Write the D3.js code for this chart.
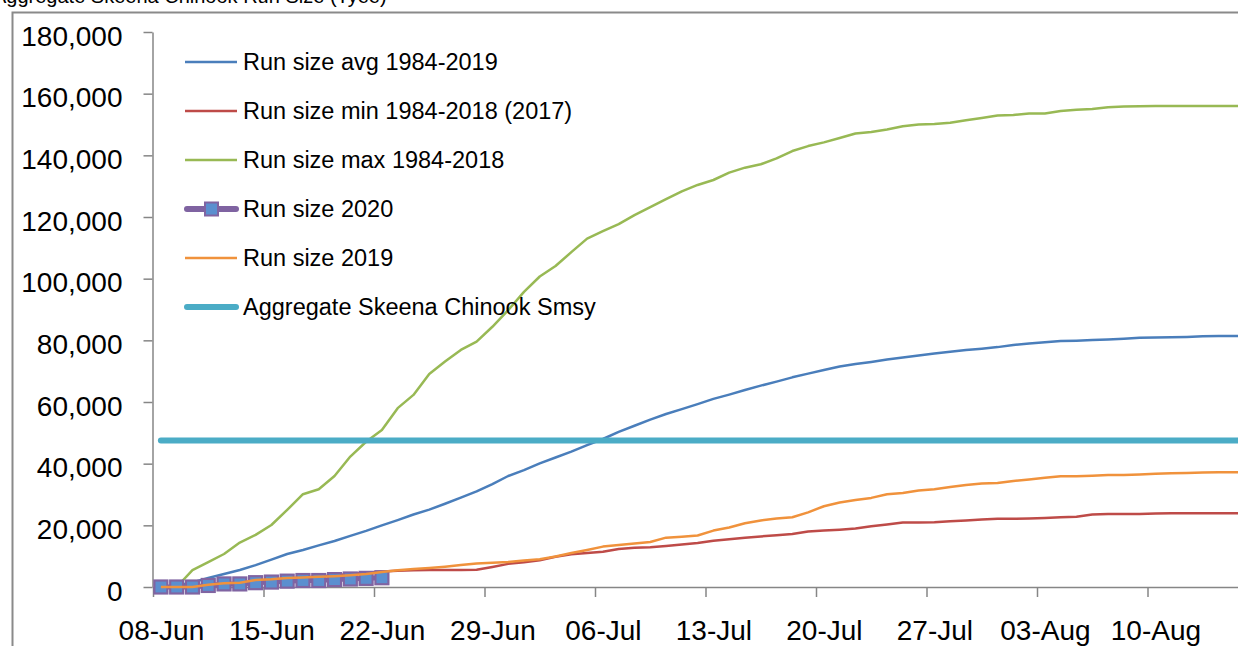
<!DOCTYPE html>
<html>
<head>
<meta charset="utf-8">
<script src="https://cdn.jsdelivr.net/npm/d3@7"></script>
<style>
  body { margin: 0; background: #fff; }
  svg { display: block; font-family: "Liberation Sans", Arial, sans-serif; }
  .axis path, .axis line { stroke: #868686; stroke-width: 1.5; }
  .axis text { fill: #000; font-size: 28px; }
</style>
</head>
<body>
<div id="chart"></div>
<script>
// Daily cumulative run size, starting 08-Jun
const startDate = "2020-06-08";

const runAvg = [0, 500, 1500, 2900, 4200, 5500, 7100, 8900, 10700, 12000,
  13500, 14900, 16600, 18200, 20000, 21700, 23500, 25100, 27000, 29000,
  31000, 33400, 36000, 37900, 40100, 42000, 43900, 46000, 48000, 50300,
  52300, 54300, 56100, 57700, 59300, 61000, 62400, 63900, 65300, 66600,
  68000, 69200, 70400, 71500, 72300, 73000, 73800, 74400, 75100, 75700,
  76300, 76900, 77300, 77800, 78500, 79000, 79400, 79800, 79900, 80100,
  80300, 80500, 80800, 80900, 81000, 81100, 81300, 81400, 81400, 81500];

const runMin = [0, 0, 200, 600, 1000, 1400, 1900, 2300, 2700, 3100,
  3400, 3800, 4200, 4600, 5000, 5300, 5400, 5500, 5500, 5500,
  5600, 6500, 7500, 8000, 8700, 9800, 10600, 11000, 11400, 12300,
  12700, 12900, 13300, 13800, 14300, 15000, 15500, 16000, 16400, 16800,
  17200, 18000, 18300, 18600, 19000, 19700, 20300, 20900, 20900, 21000,
  21300, 21600, 21900, 22100, 22100, 22200, 22400, 22600, 22800, 23500,
  23700, 23700, 23700, 23800, 23900, 23900, 23900, 23900, 23900, 23900];

const runMax = [0, 0, 5500, 8100, 10700, 14400, 16900, 20100, 25000, 30100,
  31700, 36000, 42300, 47100, 50900, 58000, 62300, 69100, 73100, 76900,
  79600, 84400, 89800, 95700, 100700, 104100, 108600, 113000, 115400, 117700,
  120600, 123200, 125800, 128300, 130400, 132000, 134400, 136000, 137100, 139000,
  141400, 143000, 144200, 145600, 147100, 147600, 148400, 149400, 150000, 150200,
  150600, 151400, 152100, 152900, 153100, 153600, 153600, 154400, 154800, 155000,
  155600, 155800, 155900, 156000, 156000, 156000, 156000, 156000, 156000, 156000];

const run2020 = [0, 0, 0, 500, 1000, 1000, 1400, 1600, 1900, 2100,
  2100, 2400, 2600, 2800, 3000];

const run2019 = [0, 0, 0, 700, 1200, 1400, 2300, 2500, 2900, 3100,
  3300, 3500, 3800, 4200, 4900, 5400, 5800, 6200, 6600, 7100,
  7600, 7900, 8100, 8600, 9000, 9900, 11000, 12000, 13100, 13600,
  14100, 14600, 16000, 16300, 16700, 18300, 19300, 20700, 21600, 22200,
  22600, 24200, 26200, 27400, 28200, 28900, 30100, 30500, 31300, 31700,
  32400, 33100, 33600, 33700, 34400, 34900, 35400, 35900, 35900, 36100,
  36300, 36300, 36500, 36700, 36900, 37000, 37100, 37200, 37200, 37300];

const smsy = 47500;

const yTicks = [0, 20000, 40000, 60000, 80000, 100000, 120000, 140000, 160000, 180000];

const legendLabels = [
  "Run size avg 1984-2019",
  "Run size min 1984-2018 (2017)",
  "Run size max 1984-2018",
  "Run size 2020",
  "Run size 2019",
  "Aggregate Skeena Chinook Smsy"
];

const W = 1238, H = 646;
const dayW = 110.5 / 7;
const x0 = 153;
const start = d3.utcParse("%Y-%m-%d")(startDate);
const nDays = runAvg.length;
const dates = d3.range(nDays).map(i => d3.utcDay.offset(start, i));
const mid = d => d3.utcHour.offset(d, 12);

const svg = d3.select("#chart").append("svg")
  .attr("width", W)
  .attr("height", H);

svg.append("rect").attr("width", W).attr("height", H).attr("fill", "#fff");

// title, cut off at the top edge like the source image
svg.append("text")
  .attr("x", -7)
  .attr("y", 3)
  .attr("font-size", 20)
  .text("Aggregate Skeena Chinook Run Size (Tyee)");

// chart area border
svg.append("rect")
  .attr("x", 12.5).attr("y", 12.5)
  .attr("width", 1400).attr("height", 800)
  .attr("fill", "none")
  .attr("stroke", "#8a8a8a")
  .attr("stroke-width", 2);

// Scales
const x = d3.scaleUtc()
  .domain([start, d3.utcDay.offset(start, nDays + 1)])
  .range([x0, x0 + (nDays + 1) * dayW]);

const y = d3.scaleLinear().domain([0, 180000]).range([587, 32]);

// Axes
const xAxis = svg.append("g")
  .attr("class", "axis x-axis")
  .attr("transform", `translate(0,${y(0)})`)
  .call(d3.axisBottom(x)
    .tickValues(d3.range(0, nDays, 7).map(k => d3.utcDay.offset(start, k)))
    .tickFormat(d3.utcFormat("%d-%b"))
    .tickSize(10)
    .tickSizeOuter(0));
xAxis.selectAll("text")
  .attr("x", dayW / 2)
  .attr("y", 53)
  .attr("dy", null);

const yAxis = svg.append("g")
  .attr("class", "axis y-axis")
  .attr("transform", `translate(${x0 - 0.5},0)`)
  .call(d3.axisLeft(y)
    .tickValues(yTicks)
    .tickFormat(d3.format(","))
    .tickSize(9)
    .tickSizeOuter(0));
yAxis.selectAll("text")
  .attr("x", -30)
  .attr("dy", 13)
  .attr("text-anchor", "end");

// Lines
const line = d3.line()
  .x((d, i) => x(mid(dates[i])))
  .y(d => y(d));

const plot = svg.append("g");

const simple = [
  { data: runAvg, color: "#4a7ebb" },
  { data: runMin, color: "#be4b48" },
  { data: runMax, color: "#98b954" }
];
simple.forEach(s => {
  plot.append("path")
    .attr("d", line(s.data))
    .attr("fill", "none")
    .attr("stroke", s.color)
    .attr("stroke-width", 2.5)
    .attr("stroke-linejoin", "round");
});

// 2020 with square markers
plot.append("path")
  .attr("d", line(run2020))
  .attr("fill", "none")
  .attr("stroke", "#7f63a1")
  .attr("stroke-width", 5);

plot.selectAll("rect.m2020")
  .data(run2020)
  .enter()
  .append("rect")
  .attr("class", "m2020")
  .attr("x", (d, i) => x(mid(dates[i])) - 6.5)
  .attr("y", d => y(d) - 6.5)
  .attr("width", 13)
  .attr("height", 13)
  .attr("fill", "#5b8fcf")
  .attr("stroke", "#8064a2")
  .attr("stroke-width", 2.2);

plot.append("path")
  .attr("d", line(run2019))
  .attr("fill", "none")
  .attr("stroke", "#f0923c")
  .attr("stroke-width", 2.5)
  .attr("stroke-linejoin", "round");

plot.append("path")
  .attr("d", line(dates.map(() => smsy)))
  .attr("fill", "none")
  .attr("stroke", "#4bacc6")
  .attr("stroke-width", 6)
  .attr("stroke-linecap", "round");

// Legend
const legendColors = ["#4a7ebb", "#be4b48", "#98b954", "#7f63a1", "#f0923c", "#4bacc6"];
const legend = svg.append("g").attr("class", "legend");
legendLabels.forEach((label, i) => {
  const ly = 62 + i * 49;
  const thick = i === 3 || i === 5;
  legend.append("line")
    .attr("x1", thick ? 187 : 185).attr("x2", thick ? 236 : 237)
    .attr("y1", ly).attr("y2", ly)
    .attr("stroke", legendColors[i])
    .attr("stroke-width", thick ? 6 : 2.5)
    .attr("stroke-linecap", thick ? "round" : "butt");
  if (i === 3) {
    legend.append("rect")
      .attr("x", 205).attr("y", ly - 6.5)
      .attr("width", 13).attr("height", 13)
      .attr("fill", "#5b8fcf")
      .attr("stroke", "#8064a2")
      .attr("stroke-width", 2);
  }
  legend.append("text")
    .attr("x", 243)
    .attr("y", ly + 8)
    .attr("font-size", 23.5)
    .text(label);
});
</script>
</body>
</html>
